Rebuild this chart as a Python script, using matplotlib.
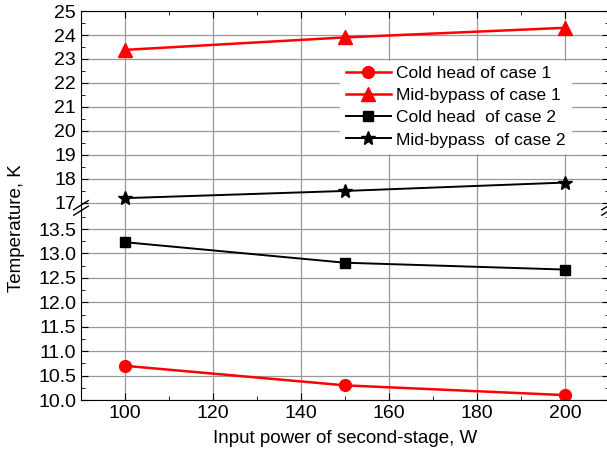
import numpy as np
import matplotlib.pyplot as plt
from matplotlib.ticker import MultipleLocator, FormatStrFormatter

plt.rcParams['font.family'] = ['Liberation Sans', 'DejaVu Sans']

power = [100, 150, 200]
cold_case1 = [10.7, 10.3, 10.1]
mid_case1 = [23.38, 23.9, 24.3]
cold_case2 = [13.23, 12.81, 12.67]
mid_case2 = [17.2, 17.5, 17.85]

fig = plt.figure(figsize=(6.07, 4.57), dpi=100)
left, width = 0.1334, 0.870
ax_lo = fig.add_axes([left, 0.1247, width, 0.4223])
ax_hi = fig.add_axes([left, 0.547, width, 0.4289])

for ax in (ax_lo, ax_hi):
    ax.set_xlim(90, 210)
    ax.xaxis.set_major_locator(MultipleLocator(20))
    ax.xaxis.set_minor_locator(MultipleLocator(10))
    ax.grid(True, which='major', color='#999999', lw=0.9)
    ax.set_axisbelow(True)
    ax.tick_params(which='both', direction='in', left=True, right=True, labelsize=14)
    ax.tick_params(which='major', length=5)
    ax.tick_params(which='minor', length=3)

ax_lo.set_ylim(10, 13.95)
ax_lo.yaxis.set_major_locator(MultipleLocator(0.5))
ax_lo.yaxis.set_minor_locator(MultipleLocator(0.25))
ax_lo.yaxis.set_major_formatter(FormatStrFormatter('%.1f'))
ax_lo.spines['top'].set_visible(False)
ax_lo.tick_params(which='both', top=False, bottom=True)

ax_hi.set_ylim(16.83, 25)
ax_hi.yaxis.set_major_locator(MultipleLocator(1))
ax_hi.yaxis.set_minor_locator(MultipleLocator(0.5))
ax_hi.spines['bottom'].set_visible(False)
ax_hi.tick_params(which='both', top=True, bottom=False, labelbottom=False)

for ax in (ax_lo, ax_hi):
    ax.plot(power, cold_case1, color='red', lw=1.8, marker='o', ms=8.5,
            label='Cold head of case 1')
    ax.plot(power, mid_case1, color='red', lw=1.8, marker='^', ms=9.5,
            label='Mid-bypass of case 1')
    ax.plot(power, cold_case2, color='black', lw=1.4, marker='s', ms=6.5,
            label='Cold head  of case 2')
    ax.plot(power, mid_case2, color='black', lw=1.4, marker='*', ms=10.5,
            label='Mid-bypass  of case 2')

leg = ax_hi.legend(loc='upper left', bbox_to_anchor=(0.475, 0.79), frameon=True,
                   fontsize=12.5, handlelength=2.6, handletextpad=0.3,
                   labelspacing=0.4, borderpad=0.3, fancybox=False)
leg.get_frame().set_edgecolor('white')
leg.get_frame().set_facecolor('white')
leg.get_frame().set_alpha(1)

# axis break marks
ybreak = 0.547
for xb in (left, left + width):
    for dy in (-0.008, 0.004):
        fig.add_artist(plt.Line2D([xb - 0.012, xb + 0.012],
                                  [ybreak + dy - 0.01, ybreak + dy + 0.01],
                                  color='black', lw=1.0))

ax_lo.set_xlabel('Input power of second-stage, W', fontsize=13.5, labelpad=6)
fig.text(0.027, 0.5, 'Temperature, K', rotation=90, fontsize=13.5,
         ha='center', va='center')

fig.savefig('out.png', dpi=100)
